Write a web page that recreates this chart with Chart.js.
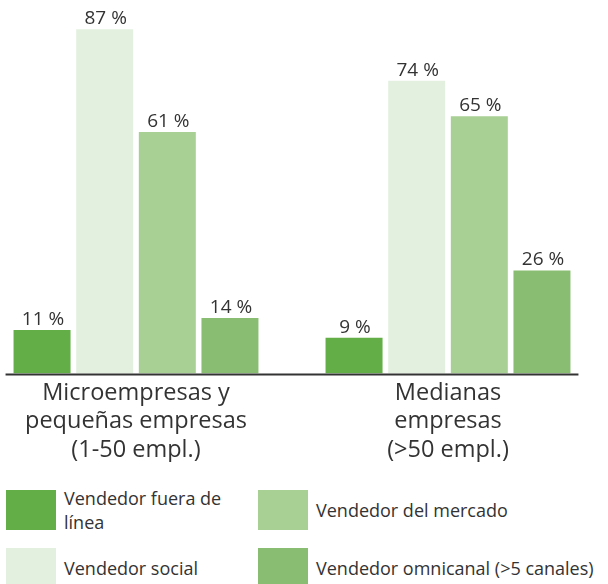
<!DOCTYPE html>
<html>
<head>
<meta charset="utf-8">
<script src="https://cdn.jsdelivr.net/npm/chart.js@4.4.0/dist/chart.umd.min.js"></script>
<style>
  body { margin: 0; background: #fff; font-family: "Open Sans", sans-serif; color: #333; overflow: hidden; }
  #wrap { position: absolute; left: -20px; top: 0; width: 628px; height: 480px; }
  #legenda {
    position: absolute; left: 6px; top: 489px;
    display: grid; grid-template-rows: 42px 42px; grid-template-columns: 252px 350px;
    grid-auto-flow: column; row-gap: 16px;
    font-size: 18px; line-height: 24px;
  }
  .voce { display: flex; align-items: center; }
  .quadrato { width: 50px; height: 40px; margin-right: 8px; flex: none; }
</style>
</head>
<body>
<div id="wrap"><canvas id="grafico"></canvas></div>
<div id="legenda"></div>
<script>
// categorie e serie
var categorie = [
    ['Microempresas y', 'pequeñas empresas', '(1-50 empl.)'],
    ['Medianas', 'empresas', '(>50 empl.)']
];
var serieNomi = ['Vendedor fuera de línea', 'Vendedor social', 'Vendedor del mercado', 'Vendedor omnicanal (>5 canales)'];
var legendaTesti = [['Vendedor fuera de', 'línea'], ['Vendedor social'], ['Vendedor del mercado'], ['Vendedor omnicanal (>5 canales)']];
var fueraDeLinea = [11, 9];
var social = [87, 74];
var mercado = [61, 65];
var omnicanal = [14, 26];
var colori = ['#63ae47', '#e3f0df', '#a8cf94', '#89bd71'];

var valori = [fueraDeLinea, social, mercado, omnicanal];
var datasets = [];
for (var i = 0; i < serieNomi.length; i++) {
    datasets.push({
        label: serieNomi[i],
        data: valori[i],
        backgroundColor: colori[i],
        borderWidth: 0,
        barPercentage: 0.91,
        categoryPercentage: 0.803
    });
}

// etichette sopra le barre + linea dell'asse
var etichette = {
    id: 'etichette',
    afterDatasetsDraw: function (chart) {
        var ctx = chart.ctx;
        ctx.save();
        ctx.fillStyle = '#333';
        ctx.font = '19px "Open Sans"';
        ctx.textAlign = 'center';
        ctx.textBaseline = 'bottom';
        var minX = Infinity, maxX = -Infinity;
        chart.data.datasets.forEach(function (ds, d) {
            chart.getDatasetMeta(d).data.forEach(function (bar, j) {
                ctx.fillText(ds.data[j] + ' %', bar.x + 1, bar.y - 1);
                minX = Math.min(minX, bar.x - bar.width / 2);
                maxX = Math.max(maxX, bar.x + bar.width / 2);
            });
        });
        var y = chart.chartArea.bottom + 1;
        ctx.strokeStyle = '#333';
        ctx.lineWidth = 2;
        ctx.beginPath();
        ctx.moveTo(minX - 8, y);
        ctx.lineTo(maxX + 8, y);
        ctx.stroke();
        ctx.restore();
    }
};

var chart = new Chart(document.getElementById('grafico'), {
    type: 'bar',
    data: { labels: categorie, datasets: datasets },
    options: {
        responsive: true,
        maintainAspectRatio: false,
        animation: false,
        layout: { padding: { left: 0, right: 4, top: 0, bottom: 18 } },
        plugins: { legend: { display: false }, tooltip: { enabled: false } },
        scales: {
            x: {
                grid: { display: false },
                border: { display: false },
                ticks: { color: '#333', font: { family: 'Open Sans', size: 23.5 }, padding: -2 }
            },
            y: { display: false, min: 0, max: 94.4 }
        }
    },
    plugins: [etichette]
});

// legenda in HTML costruita dai dataset
var leg = document.getElementById('legenda');
chart.data.datasets.forEach(function (ds, i) {
    var voce = document.createElement('div');
    voce.className = 'voce';
    var q = document.createElement('div');
    q.className = 'quadrato';
    q.style.background = ds.backgroundColor;
    var t = document.createElement('div');
    t.innerHTML = legendaTesti[i].join('<br>');
    voce.appendChild(q);
    voce.appendChild(t);
    leg.appendChild(voce);
});
</script>
</body>
</html>
